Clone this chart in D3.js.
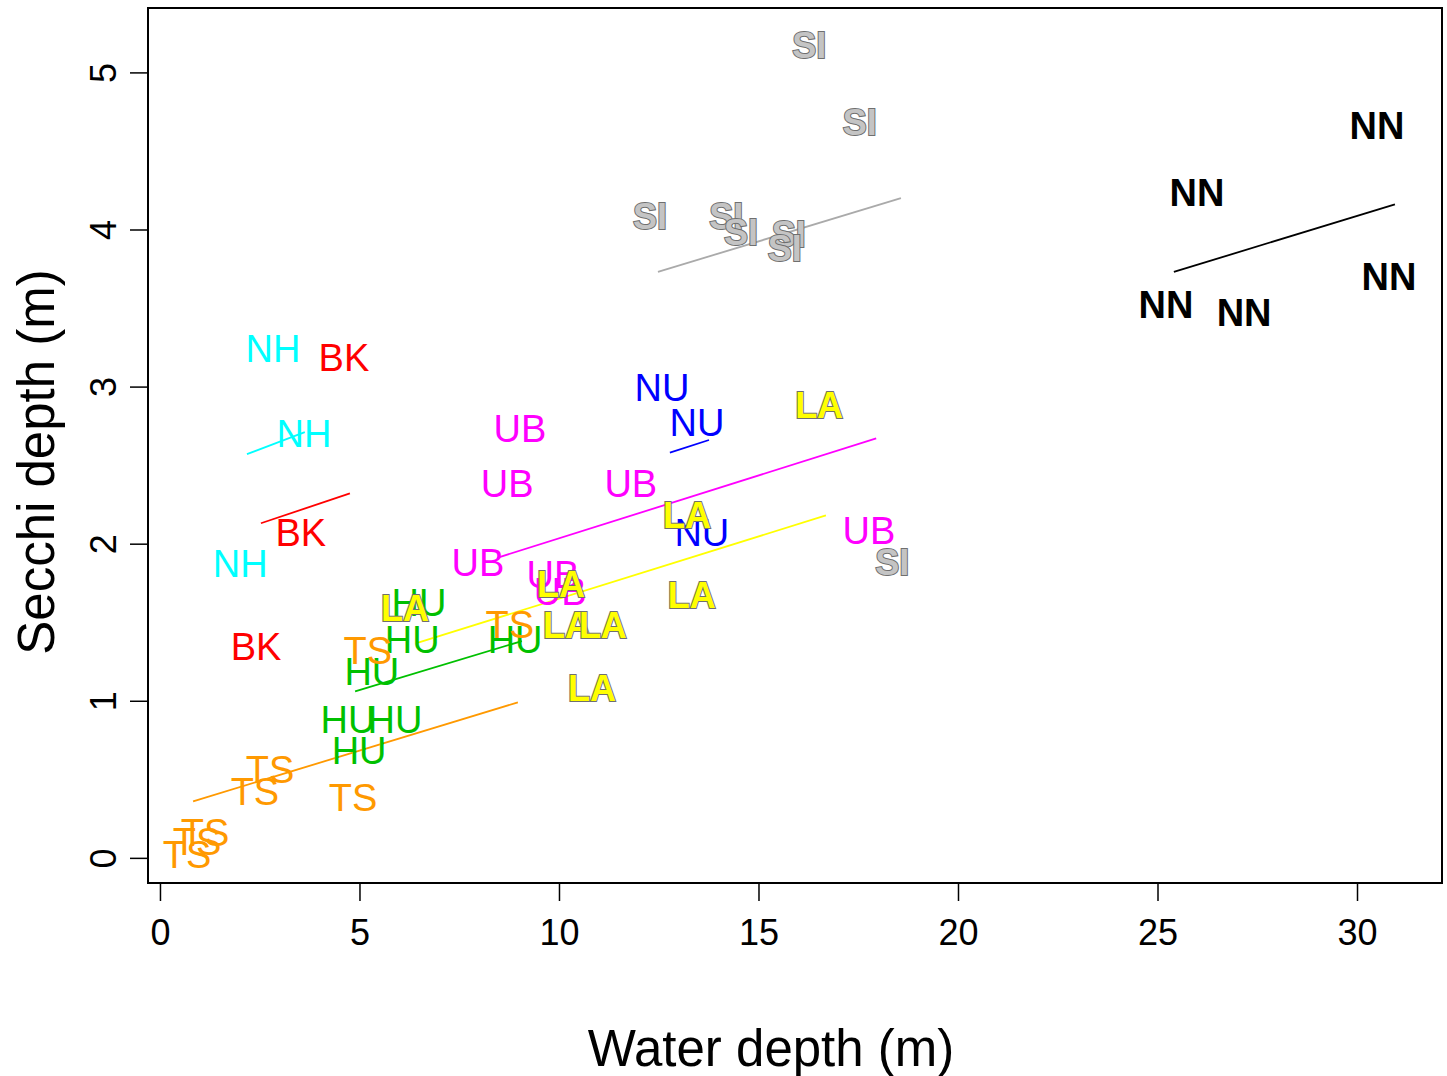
<!DOCTYPE html>
<html>
<head>
<meta charset="utf-8">
<script src="https://cdn.jsdelivr.net/npm/d3@7"></script>
<style>
  body { margin: 0; background: #fff; }
  text { font-family: "Liberation Sans", Arial, sans-serif; }
</style>
</head>
<body>
<div id="chart"></div>
<script>
// site labels, one array pair per site: water depth (m), secchi depth (m)
var nnX = [30.50, 25.99, 25.21, 27.17, 30.80],
    nnY = [4.66, 4.23, 3.52, 3.47, 3.70];
var siX = [16.27, 17.54, 12.28, 14.19, 14.56, 15.76, 15.66, 18.35],
    siY = [5.17, 4.68, 4.08, 4.08, 3.98, 3.97, 3.88, 1.88];
var nhX = [2.83, 3.61, 2.01],
    nhY = [3.24, 2.70, 1.87];
var bkX = [4.61, 3.53, 2.41],
    bkY = [3.18, 2.07, 1.34];
var nuX = [12.58, 13.46, 13.58],
    nuY = [2.99, 2.77, 2.07];
var ubX = [9.02, 8.70, 11.80, 17.77, 7.97, 9.85, 10.03],
    ubY = [2.73, 2.38, 2.38, 2.08, 1.88, 1.80, 1.69];
var laX = [16.52, 13.21, 13.33, 10.05, 6.14, 10.20, 11.10, 10.83],
    laY = [2.88, 2.18, 1.67, 1.74, 1.59, 1.48, 1.48, 1.08];
var huX = [6.49, 6.32, 8.90, 5.31, 4.71, 5.89, 4.99],
    huY = [1.62, 1.39, 1.39, 1.18, 0.88, 0.88, 0.68];
var tsX = [5.21, 8.77, 2.76, 2.38, 4.84, 1.13, 0.93, 0.68],
    tsY = [1.32, 1.48, 0.56, 0.42, 0.38, 0.16, 0.10, 0.02];

// fitted lines per site: [x0, y0, x1, y1]
var nnFit = [25.41, 3.73, 30.95, 4.16],
    siFit = [12.48, 3.73, 18.57, 4.20],
    nhFit = [2.18, 2.57, 3.63, 2.71],
    bkFit = [2.53, 2.13, 4.76, 2.32],
    nuFit = [12.78, 2.58, 13.76, 2.66],
    ubFit = [8.45, 1.91, 17.95, 2.67],
    laFit = [6.47, 1.37, 16.69, 2.18],
    huFit = [4.89, 1.06, 9.07, 1.38],
    tsFit = [0.83, 0.36, 8.97, 0.99];

var xTicks = [0, 5, 10, 15, 20, 25, 30],
    yTicks = [0, 1, 2, 3, 4, 5];

(function () {
    "use strict";

    var sites = [
        {name: "NH", x: nhX, y: nhY, fit: nhFit, color: "#00ffff", style: "plain"},
        {name: "BK", x: bkX, y: bkY, fit: bkFit, color: "#ff0000", style: "plain"},
        {name: "NU", x: nuX, y: nuY, fit: nuFit, color: "#0000ff", style: "plain"},
        {name: "UB", x: ubX, y: ubY, fit: ubFit, color: "#ff00ff", style: "plain"},
        {name: "HU", x: huX, y: huY, fit: huFit, color: "#00c000", style: "plain"},
        {name: "TS", x: tsX, y: tsY, fit: tsFit, color: "#ff9900", style: "plain"},
        {name: "LA", x: laX, y: laY, fit: laFit, color: "#ffff00", style: "outline"},
        {name: "SI", x: siX, y: siY, fit: siFit, color: "#c4c4c4", style: "outline"},
        {name: "NN", x: nnX, y: nnY, fit: nnFit, color: "#000000", style: "bold"}
    ];

    var width = 1447,
        height = 1076,
        pl = 148, pr = 1442, pt = 8, pb = 883;

    var x = d3.scaleLinear().domain([-0.30, 32.13]).range([pl, pr]);
    var y = d3.scaleLinear().domain([-0.16, 5.41]).range([pb, pt]);

    var svg = d3.select("#chart").append("svg")
        .attr("width", width)
        .attr("height", height);

    svg.append("rect")
        .attr("x", pl).attr("y", pt)
        .attr("width", pr - pl).attr("height", pb - pt)
        .attr("fill", "none").attr("stroke", "#000").attr("stroke-width", 2);

    // x axis
    var xAxis = svg.append("g")
        .attr("transform", "translate(0," + pb + ")")
        .call(d3.axisBottom(x).tickValues(xTicks).tickSize(18).tickPadding(18));
    xAxis.select(".domain").remove();
    xAxis.selectAll(".tick line").attr("stroke-width", 1.5);
    xAxis.selectAll(".tick text")
        .attr("font-size", 36)
        .attr("fill", "#000")
        .attr("font-family", "Liberation Sans, Arial, sans-serif");

    // y axis with rotated labels
    var yAxis = svg.append("g")
        .attr("transform", "translate(" + pl + ",0)")
        .call(d3.axisLeft(y).tickValues(yTicks).tickSize(18).tickFormat(""));
    yAxis.select(".domain").remove();
    yAxis.selectAll(".tick line").attr("stroke-width", 1.5);
    yAxis.selectAll(".tick").append("text")
        .attr("transform", "translate(-45,0) rotate(-90)")
        .attr("text-anchor", "middle")
        .attr("dominant-baseline", "central")
        .attr("font-size", 36)
        .attr("fill", "#000")
        .text(function (d) { return d; });

    svg.append("text")
        .attr("x", 771).attr("y", 1048)
        .attr("text-anchor", "middle")
        .attr("dominant-baseline", "central")
        .attr("font-size", 51)
        .text("Water depth (m)");

    svg.append("text")
        .attr("transform", "translate(36,462) rotate(-90)")
        .attr("text-anchor", "middle")
        .attr("dominant-baseline", "central")
        .attr("font-size", 51)
        .text("Secchi depth (m)");

    var plot = svg.append("g");

    // fitted lines
    plot.selectAll("line.fit")
        .data(sites)
        .enter().append("line")
        .attr("class", "fit")
        .attr("x1", function (d) { return x(d.fit[0]); })
        .attr("y1", function (d) { return y(d.fit[1]); })
        .attr("x2", function (d) { return x(d.fit[2]); })
        .attr("y2", function (d) { return y(d.fit[3]); })
        .attr("stroke", function (d) { return d.name === "SI" ? "#aaaaaa" : d.color; })
        .attr("stroke-width", 1.8);

    // site labels
    sites.forEach(function (s) {
        var pts = s.x.map(function (v, i) { return [v, s.y[i]]; });
        var t = plot.selectAll("text." + s.name)
            .data(pts)
            .enter().append("text")
            .attr("class", s.name)
            .attr("x", function (d) { return x(d[0]); })
            .attr("y", function (d) { return y(d[1]); })
            .attr("text-anchor", "middle")
            .attr("dominant-baseline", "central")
            .attr("fill", s.color)
            .text(s.name);
        if (s.style === "plain") {
            t.attr("font-size", 38);
        } else if (s.style === "outline") {
            t.attr("font-size", 36)
                .attr("font-weight", "bold")
                .attr("stroke", "#6f6f6f")
                .attr("stroke-width", 2)
                .attr("paint-order", "stroke");
        } else {
            t.attr("font-size", 38)
                .attr("font-family", "Lato, 'Open Sans', sans-serif")
                .attr("font-weight", "bold");
        }
    });
})();
</script>
</body>
</html>
